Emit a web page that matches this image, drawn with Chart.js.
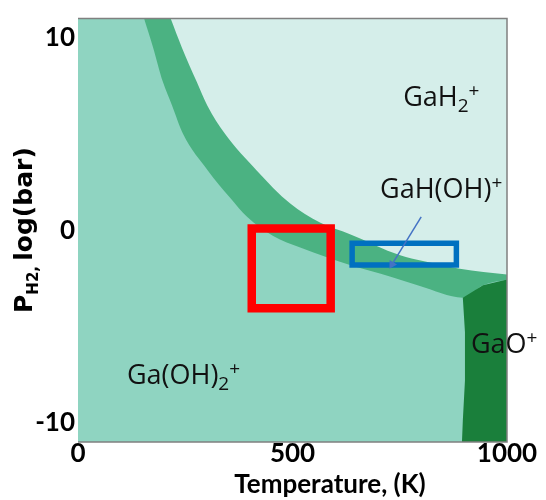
<!DOCTYPE html>
<html><head><meta charset="utf-8">
<script src="https://cdn.jsdelivr.net/npm/chart.js@4.4.1/dist/chart.umd.min.js"></script>
<style>html,body{margin:0;padding:0;background:#fff;}canvas{display:block;}</style>
</head><body>
<canvas id="c" width="546" height="500"></canvas>
<script>
// ---- axes ----
const xTicks = [0, 500, 1000];
const yTicks = [-10, 0, 10];
const xRange = [0, 1000];
const yRange = [-11, 11];

// ---- phase regions (Temperature K, log P_H2) ----
// whole-area background: Ga(OH)2+
const baseT = [0, 1000];
const baseP = [11, 11];
// upper edge of the transition band (boundary with GaH2+)
const upperEdgeT = [216, 242, 277, 301, 343, 417, 494, 564, 634, 751, 804, 890, 1000];
const upperEdgeP = [11, 9.5, 7.7, 6.5, 5.0, 3.1, 1.4, 0.4, -0.2, -1.3, -1.6, -2.0, -2.3];
// lower edge of the transition band (boundary with Ga(OH)2+)
const lowerEdgeT = [154, 175, 198, 219, 245, 303, 354, 394, 455, 518, 580, 634, 727, 797, 897];
const lowerEdgeP = [11, 9.5, 7.7, 6.5, 5.0, 3.1, 1.7, 0.7, -0.3, -0.9, -1.4, -1.8, -2.4, -2.9, -3.5];
// GaO+ region outline (its top edge closes the band on the right)
const gaoT = [895, 897, 902, 902, 897, 944, 1000];
const gaoP = [-11, -9.9, -7.8, -5.3, -3.5, -2.85, -2.55];

// ---- highlight boxes and arrow ----
const redBoxT = [405, 589, 589, 405, 405];
const redBoxP = [0.1, 0.1, -4.05, -4.05, 0.1];
const blueBoxT = [639, 882, 882, 639, 639];
const blueBoxP = [-0.67, -0.67, -1.8, -1.8, -0.67];
const arrowT = [800, 732];
const arrowP = [0.7, -1.77];

// ---- region labels: [text, 0 normal / -1 subscript / 1 superscript] ----
const labelParts = [
  [['GaH', 0], ['2', -1], ['+', 1]],
  [['GaH(OH)', 0], ['+', 1]],
  [['Ga(OH)', 0], ['2', -1], ['+', 1]],
  [['GaO', 0], ['+', 1]]
];
const labelT = [758, 704, 114, 916];
const labelP = [6.44, 1.67, -7.97, -6.38];

const xTitle = 'Temperature, (K)';
const yTitleParts = [['P', 0], ['H2, ', -1], ['log(bar)', 0]];

const pts = (T, P) => T.map((t, i) => ({x: t, y: P[i]}));

function region(T, P, color, fill, order, smooth) {
  return {data: pts(T, P), showLine: true, borderWidth: 0, borderColor: color,
    backgroundColor: color, fill: fill, pointRadius: 0, order: order,
    cubicInterpolationMode: smooth ? 'monotone' : 'default', tension: 0};
}
function outline(T, P, color, width, order) {
  return {data: pts(T, P), showLine: true, borderWidth: width, borderColor: color,
    backgroundColor: color, fill: false, pointRadius: 0, tension: 0,
    borderJoinStyle: 'miter', borderCapStyle: 'square', order: order};
}

const textPlugin = {
  id: 'texts',
  afterDatasetsDraw(chart) {
    const ctx = chart.ctx, xs = chart.scales.x, ys = chart.scales.y, a = chart.chartArea;
    ctx.save();
    // frame (top, right, bottom)
    ctx.strokeStyle = '#808080';
    ctx.lineWidth = 1.5;
    ctx.beginPath();
    ctx.moveTo(a.left, a.top); ctx.lineTo(a.right, a.top);
    ctx.lineTo(a.right, a.bottom); ctx.lineTo(a.left, a.bottom);
    ctx.stroke();
    // region labels
    ctx.fillStyle = '#111';
    ctx.textAlign = 'left';
    ctx.textBaseline = 'alphabetic';
    labelParts.forEach((parts, i) => {
      let x = xs.getPixelForValue(labelT[i]);
      const y = ys.getPixelForValue(labelP[i]);
      parts.forEach(([t, s]) => {
        ctx.font = s === 0 ? '27px "Open Sans"' : '19px "Open Sans"';
        const dy = s === 0 ? 0 : (s < 0 ? 6 : -9);
        ctx.fillText(t, x, y + dy);
        x += ctx.measureText(t).width;
      });
    });
    // x title
    ctx.fillStyle = '#000';
    ctx.font = 'bold 26px Lato';
    ctx.textAlign = 'center';
    ctx.fillText(xTitle, 330, 493);
    // y title (rotated, with subscript)
    ctx.translate(32, 313);
    ctx.rotate(-Math.PI / 2);
    ctx.textAlign = 'left';
    let x = 0;
    yTitleParts.forEach(([t, s]) => {
      ctx.font = s === 0 ? 'bold 25px "DejaVu Sans"' : 'bold 15px "DejaVu Sans"';
      ctx.fillText(t, x, s === 0 ? 0 : 6);
      x += ctx.measureText(t).width;
    });
    ctx.restore();
  }
};

new Chart(document.getElementById('c'), {
  type: 'scatter',
  data: {
    datasets: [
      region(baseT, baseP, '#8fd4c1', 'start', 6, false),
      region(lowerEdgeT.concat(gaoT.slice(5)), lowerEdgeP.concat(gaoP.slice(5)), '#4bb282', 'end', 5, true),
      region(upperEdgeT, upperEdgeP, '#d5eeea', 'end', 4, true),
      region(gaoT, gaoP, '#1a7f3b', 'start', 3, false),
      outline(redBoxT, redBoxP, '#ff0000', 8.5, 2),
      outline(blueBoxT, blueBoxP, '#0070c0', 5.5, 2),
      {data: pts(arrowT, arrowP), showLine: true, borderWidth: 1.5, borderColor: '#4472c4',
       backgroundColor: '#4472c4', fill: false, tension: 0, order: 1,
       pointRadius: [0, 5], pointStyle: 'triangle', pointRotation: [0, 211], pointBorderWidth: 0}
    ]
  },
  options: {
    responsive: false,
    animation: false,
    events: [],
    layout: {padding: {top: 13, right: 39, left: 0, bottom: 0}},
    plugins: {legend: {display: false}, tooltip: {enabled: false}},
    scales: {
      x: {
        type: 'linear', min: xRange[0], max: xRange[1],
        afterBuildTicks: s => { s.ticks = xTicks.map(v => ({value: v})); },
        afterFit: s => { s.height = 58; },
        grid: {display: false, drawTicks: false},
        border: {display: false},
        ticks: {padding: -4, color: '#000', font: {family: 'Lato', weight: 'bold', size: 26},
                maxRotation: 0, autoSkip: false, callback: v => String(v)}
      },
      y: {
        type: 'linear', min: yRange[0], max: yRange[1],
        afterBuildTicks: s => { s.ticks = yTicks.map(v => ({value: v})); },
        afterFit: s => { s.width = 78; },
        grid: {display: false, drawTicks: false},
        border: {display: false},
        ticks: {padding: 3, color: '#000', font: {family: 'Lato', weight: 'bold', size: 26},
                callback: v => String(v)}
      }
    }
  },
  plugins: [textPlugin]
});
</script>
</body></html>
